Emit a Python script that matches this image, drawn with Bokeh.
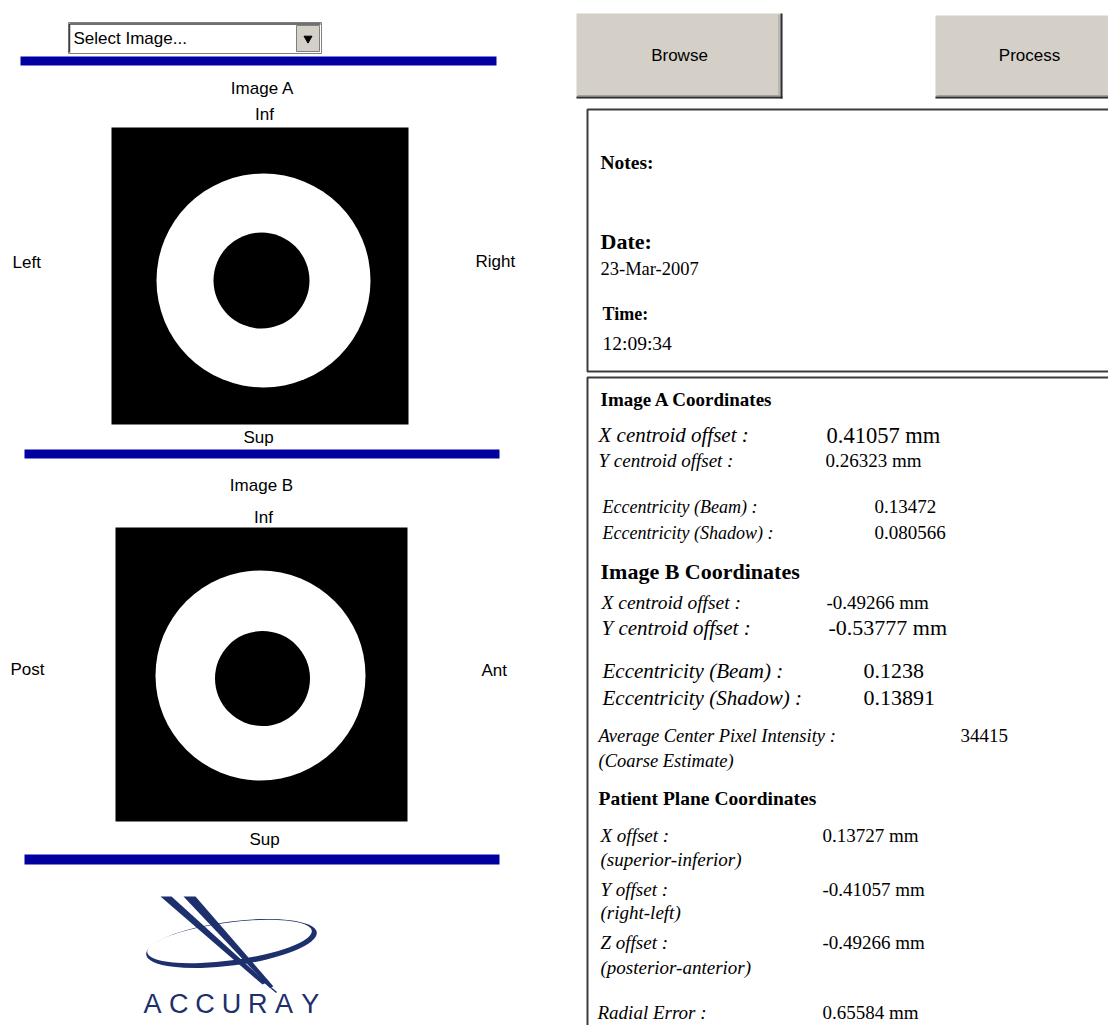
from bokeh.plotting import figure
from bokeh.models import Range1d
from bokeh.core.properties import value
from bokeh.embed import file_html
from bokeh.resources import INLINE

# ---------------- data ----------------
view_titles = ["Image A", "Image B"]
top_labels = ["Inf", "Inf"]
bottom_labels = ["Sup", "Sup"]
left_labels = ["Left", "Post"]
right_labels = ["Right", "Ant"]
beam_cx = [263, 260]
beam_cy = [280, 675]
beam_r = [107, 105]
shadow_cx = [261, 262]
shadow_cy = [280, 678]
shadow_r = [48, 47.5]

dropdown_text = "Select Image..."
button_labels = ["Browse", "Process"]
note_headers = ["Notes:", "Date:", "Time:"]
date_value = "23-Mar-2007"
time_value = "12:09:34"

section_titles = ["Image A Coordinates", "Image B Coordinates", "Patient Plane Coordinates"]
centroid_labels = ["X centroid offset :", "Y centroid offset :"]
ecc_labels = ["Eccentricity (Beam) :", "Eccentricity (Shadow) :"]
imgA_centroid = ["0.41057 mm", "0.26323 mm"]
imgA_ecc = ["0.13472", "0.080566"]
imgB_centroid = ["-0.49266 mm", "-0.53777 mm"]
imgB_ecc = ["0.1238", "0.13891"]
intensity_labels = ["Average Center Pixel Intensity :", "(Coarse Estimate)"]
intensity_value = "34415"
offset_labels = ["X offset :", "Y offset :", "Z offset :"]
offset_axes = ["(superior-inferior)", "(right-left)", "(posterior-anterior)"]
offset_values = ["0.13727 mm", "-0.41057 mm", "-0.49266 mm"]
radial_label = "Radial Error :"
radial_value = "0.65584 mm"
logo_word = "ACCURAY"

# ---------------- figure ----------------
SANS = "Liberation Sans"
SERIF = "Liberation Serif"
BLUE = "#0000a0"
NAVY = "#1d2f6c"
GRAY = "#d4d0c8"

p = figure(width=1108, height=1025, x_range=Range1d(0, 1108), y_range=Range1d(1025, 0),
           output_backend="svg", toolbar_location=None, min_border=0,
           x_axis_type=None, y_axis_type=None)
p.outline_line_color = None
p.background_fill_color = "white"
p.border_fill_color = "white"


def txt(xs, ys, texts, font, size, style="normal", align="left", color="#000000"):
    p.text(x=xs, y=ys, text=texts, text_font=value(font), text_font_size=value(f"{size}px"),
           text_font_style=style, text_align=align, text_baseline="middle", text_color=color)


# ---- left panel ----
# dropdown
p.quad(left=[68], right=[321], top=[22], bottom=[53], fill_color="white", line_color="#808080", line_width=1)
p.segment(x0=[69, 69], y0=[23.5, 23.5], x1=[320, 69], y1=[23.5, 52], line_color="#404040", line_width=1.5)
p.quad(left=[296], right=[319], top=[25], bottom=[51], fill_color=GRAY, line_color="#808080", line_width=1)
p.scatter(x=[307.5], y=[38], marker="inverted_triangle", size=8, fill_color="black", line_color="black")
txt([73], [38], [dropdown_text], SANS, 17)

# blue separators
p.quad(left=[20, 24, 24], right=[496, 499, 499], top=[56, 449, 854], bottom=[65, 458, 864],
       fill_color=BLUE, line_color=None)

# image panels
p.quad(left=[111, 115], right=[408, 407], top=[127, 527], bottom=[424, 821],
       fill_color="black", line_color=None)
p.circle(x=beam_cx, y=beam_cy, radius=beam_r, fill_color="white", line_color=None)
p.circle(x=shadow_cx, y=shadow_cy, radius=shadow_r, fill_color="black", line_color=None)

txt([262, 261], [88, 485], view_titles, SANS, 17, align="center")
txt([264, 263], [114, 517], top_labels, SANS, 17, align="center")
txt([258, 264], [437, 839], bottom_labels, SANS, 17, align="center")
txt([12, 10], [262, 669], left_labels, SANS, 17)
txt([475, 481], [261, 670], right_labels, SANS, 17)

# logo
p.ellipse(x=[231], y=[943], width=[172], height=[44], angle=[0.13], fill_color=NAVY, line_color=None)
p.ellipse(x=[229], y=[941], width=[166], height=[38], angle=[0.13], fill_color="white", line_color=None)
p.patches(xs=[[160, 171, 266, 262], [183, 195, 273, 269]],
          ys=[[896, 896, 982, 984], [896, 896, 986, 987]],
          fill_color=NAVY, line_color=None)
p.segment(x0=[262], y0=[980], x1=[276], y1=[992], line_color=NAVY, line_width=1.5)
txt([152 + i * 26.3 for i in range(len(logo_word))], [1003] * len(logo_word), list(logo_word),
    SANS, 27, align="center", color=NAVY)

# ---- right panel ----
# buttons
p.quad(left=[576, 935], right=[782, 1115], top=[13, 15], bottom=[98, 98], fill_color=GRAY, line_color=None)
p.segment(x0=[576, 781, 935], y0=[97, 13, 97], x1=[782, 781, 1115], y1=[97, 98, 97],
          line_color="#303030", line_width=2)
p.segment(x0=[577, 778.5, 936], y0=[95, 14, 95], x1=[779, 778.5, 1115], y1=[95, 96, 95],
          line_color="#a0a0a0", line_width=1)
txt([679, 1029], [55, 55], button_labels, SANS, 17, align="center")

# info boxes
p.quad(left=[587, 587], right=[1130, 1130], top=[109, 377], bottom=[371, 1060],
       fill_color=None, line_color="#3c3c3c", line_width=2)

txt([600], [162], [note_headers[0]], SERIF, 19.5, style="bold")
txt([600], [241], [note_headers[1]], SERIF, 22, style="bold")
txt([600], [268], [date_value], SERIF, 18.5)
txt([602], [313], [note_headers[2]], SERIF, 18, style="bold")
txt([602], [343], [time_value], SERIF, 19.5)

# Image A
txt([600], [399], [section_titles[0]], SERIF, 19, style="bold")
txt([598], [434], [centroid_labels[0]], SERIF, 21, style="italic")
txt([598], [460], [centroid_labels[1]], SERIF, 19, style="italic")
txt([826], [435], [imgA_centroid[0]], SERIF, 22.5)
txt([825], [460], [imgA_centroid[1]], SERIF, 19)
txt([602, 602], [506, 532], ecc_labels, SERIF, 18, style="italic")
txt([874, 874], [506, 532], imgA_ecc, SERIF, 19)

# Image B
txt([600], [571], [section_titles[1]], SERIF, 22, style="bold")
txt([601], [602], [centroid_labels[0]], SERIF, 19.5, style="italic")
txt([601], [627], [centroid_labels[1]], SERIF, 21, style="italic")
txt([826], [602], [imgB_centroid[0]], SERIF, 19)
txt([828], [627], [imgB_centroid[1]], SERIF, 22)
txt([602, 602], [670, 697], ecc_labels, SERIF, 21, style="italic")
txt([863, 863], [670, 697], imgB_ecc, SERIF, 22)

# intensity
txt([598, 598], [735, 760], intensity_labels, SERIF, 18.5, style="italic")
txt([960], [735], [intensity_value], SERIF, 19)

# patient plane
txt([598], [798], [section_titles[2]], SERIF, 19.5, style="bold")
txt([600, 600, 600], [835, 889, 942], offset_labels, SERIF, 19, style="italic")
txt([600, 600, 600], [859, 912, 967], offset_axes, SERIF, 19, style="italic")
txt([822, 822, 822], [835, 889, 942], offset_values, SERIF, 19)
txt([597], [1012], [radial_label], SERIF, 19, style="italic")
txt([822], [1012], [radial_value], SERIF, 19)

open("out.html", "w").write(file_html(p, INLINE))
